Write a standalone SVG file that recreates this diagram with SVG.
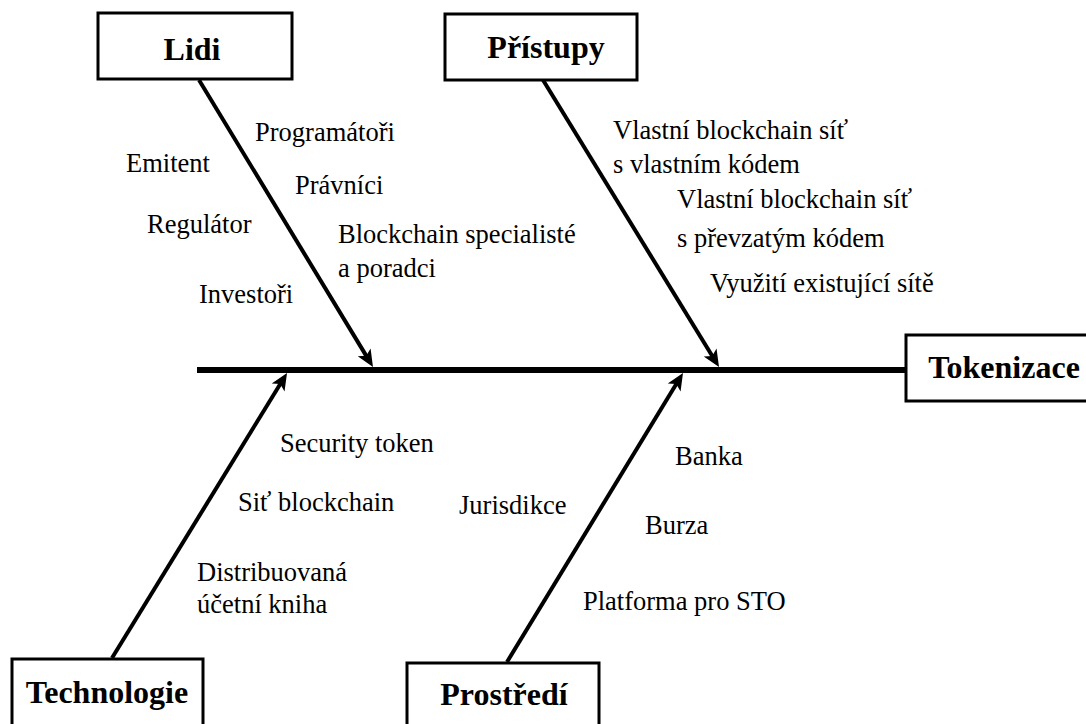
<svg xmlns="http://www.w3.org/2000/svg" width="1086" height="724" viewBox="0 0 1086 724">
  <style>
    .box { fill: #ffffff; stroke: #000000; stroke-width: 3; }
    text { font-family: "Liberation Serif", "Times New Roman", serif; fill: #000000; }
    .title { font-size: 32px; font-weight: bold; text-anchor: middle; }
    .label { font-size: 26.5px; }
    .spine { stroke: #000000; stroke-width: 6; fill: none; }
    .bone { stroke: #000000; stroke-width: 4; fill: none; marker-end: url(#head); }
  </style>
  <defs>
    <marker id="head" markerUnits="userSpaceOnUse" viewBox="0 -8 20 16" markerWidth="20" markerHeight="16" refX="10" refY="0" orient="auto">
      <path d="M20,0 L3,-7.5 L7,0 L3,7.5 Z" fill="#000000"/>
    </marker>
  </defs>

  <rect width="1086" height="724" fill="#ffffff"/>

  <!-- spine and cause bones -->
  <g id="connectors">
    <line class="spine" x1="197" y1="370" x2="906" y2="370"/>
    <line class="bone" x1="199" y1="80" x2="367.8" y2="358.4"/>
    <line class="bone" x1="543" y1="80" x2="713.8" y2="358.5"/>
    <line class="bone" x1="112" y1="658" x2="281.8" y2="381.5"/>
    <line class="bone" x1="507" y1="662" x2="677.8" y2="381.5"/>
  </g>

  <g id="lidi">
    <rect class="box" x="98" y="13" width="194" height="66"/>
    <text class="title" x="192" y="60">Lidi</text>
  </g>

  <g id="pristupy">
    <rect class="box" x="445" y="14" width="192" height="66"/>
    <text class="title" x="546" y="58">Přístupy</text>
  </g>

  <g id="tokenizace">
    <rect class="box" x="906" y="335" width="186" height="66"/>
    <text class="title" x="1004" y="378">Tokenizace</text>
  </g>

  <g id="technologie">
    <rect class="box" x="12" y="659" width="191" height="80"/>
    <text class="title" x="107" y="703">Technologie</text>
  </g>

  <g id="prostredi">
    <rect class="box" x="407" y="663" width="192" height="80"/>
    <text class="title" x="504" y="705">Prostředí</text>
  </g>

  <!-- cause labels -->
  <g id="labels-lidi">
    <text class="label" x="255" y="141">Programátoři</text>
    <text class="label" x="126" y="172">Emitent</text>
    <text class="label" x="295" y="194">Právníci</text>
    <text class="label" x="147" y="233">Regulátor</text>
    <text class="label" x="338" y="243">Blockchain specialisté</text>
    <text class="label" x="338" y="277">a poradci</text>
    <text class="label" x="199" y="303">Investoři</text>
  </g>

  <g id="labels-pristupy">
    <text class="label" x="613" y="139">Vlastní blockchain síť</text>
    <text class="label" x="613" y="173">s vlastním kódem</text>
    <text class="label" x="677" y="208">Vlastní blockchain síť</text>
    <text class="label" x="677" y="247">s převzatým kódem</text>
    <text class="label" x="710" y="292">Využití existující sítě</text>
  </g>

  <g id="labels-technologie">
    <text class="label" x="280" y="452">Security token</text>
    <text class="label" x="238" y="511">Siť blockchain</text>
    <text class="label" x="197" y="581">Distribuovaná</text>
    <text class="label" x="197" y="613">účetní kniha</text>
  </g>

  <g id="labels-prostredi">
    <text class="label" x="675" y="465">Banka</text>
    <text class="label" x="459" y="514">Jurisdikce</text>
    <text class="label" x="645" y="534">Burza</text>
    <text class="label" x="583" y="610">Platforma pro STO</text>
  </g>
</svg>
